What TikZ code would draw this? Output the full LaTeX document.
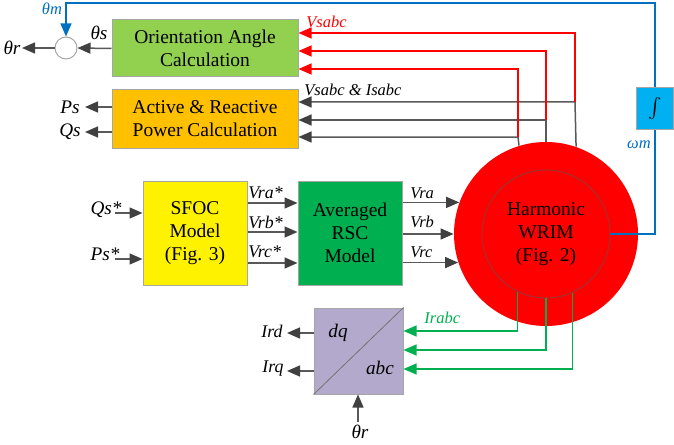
\documentclass[tikz,border=0pt]{standalone}
\usepackage{fontspec}
\setmainfont{LiberationSerif}[
  Extension=.ttf,
  UprightFont=*-Regular,
  BoldFont=*-Bold,
  ItalicFont=*-Italic,
  BoldItalicFont=*-BoldItalic]
\usetikzlibrary{arrows.meta}
\definecolor{linegray}{HTML}{595959}
\definecolor{tipgray}{HTML}{404040}
\definecolor{boxedge}{HTML}{A6A6A6}
\definecolor{oacgreen}{HTML}{92D050}
\definecolor{arporange}{HTML}{FFC000}
\definecolor{rscgreen}{HTML}{00B050}
\definecolor{convlilac}{HTML}{B3A9CC}
\definecolor{integblue}{HTML}{00B0F0}
\definecolor{sigblue}{HTML}{0070C0}
\definecolor{sigred}{HTML}{FF0000}
\definecolor{siggreen}{HTML}{00B050}
\definecolor{ringedge}{HTML}{8C3C3C}

\begin{document}
\begin{tikzpicture}[x=0.5pt,y=-0.5pt,
  block/.style={draw=boxedge, line width=0.5pt, align=center, inner sep=0pt,
    font=\fontsize{9.75}{11.5}\selectfont},
  lab/.style={font=\fontsize{8.25}{10}\selectfont\itshape, inner sep=0pt},
  midlab/.style={font=\fontsize{8.9}{10}\selectfont\itshape, inner sep=0pt},
  biglab/.style={font=\fontsize{9.6}{11}\selectfont\itshape, inner sep=0pt},
  sig/.style={draw=linegray, line width=0.75pt,
    -{Triangle[length=6.5pt,width=5.5pt,color=tipgray]}},
  redsig/.style={draw=sigred, line width=0.6pt, -{Triangle[length=6.5pt,width=5.5pt]}},
  greensig/.style={draw=siggreen, line width=0.6pt, -{Triangle[length=6.5pt,width=5.5pt]}},
  bluesig/.style={draw=sigblue, line width=0.6pt},
]
\useasboundingbox (0,0) rectangle (674,444);

% machine
\node[circle, fill=sigred, minimum size=92pt, inner sep=0pt] (motor) at (546,234) {};
\node[circle, draw=ringedge, fill=sigred, line width=0.4pt, minimum size=64pt,
  inner sep=0pt, align=center, font=\fontsize{9.75}{11.5}\selectfont] (rotor) at (546,234)
  {Harmonic\\WRIM\\(Fig. 2)};

% blocks
\node[block, fill=oacgreen, minimum width=93pt, minimum height=28.5pt] (oac) at (205,48.5)
  {Orientation Angle\\Calculation};
\node[block, fill=arporange, minimum width=93pt, minimum height=29pt] (arp) at (205,119)
  {Active \& Reactive\\Power Calculation};
\node[block, fill=yellow, minimum size=52pt] (sfoc) at (195,233) {SFOC\\Model\\(Fig. 3)};
\node[block, fill=rscgreen, minimum size=52pt] (rsc) at (350,233) {Averaged\\RSC\\Model};
\node[block, fill=convlilac, minimum width=44.5pt, minimum height=43pt] (conv) at (358.5,351) {};
\draw[line width=0.4pt, draw=black!55] (conv.south west) -- (conv.north east);
\node[biglab] (dq) at (338,333) {dq};
\node[biglab] (abc) at (380,368) {abc};
\node[block, fill=integblue, minimum width=18.5pt, minimum height=20.5pt] (integ) at (655,108.5) {$\int$};
\node[circle, draw=boxedge, fill=white, line width=0.5pt, minimum size=11pt, inner sep=0pt] (sum) at (66,48) {};

% angle path
\draw[sig] (oac.west) -- (sum.east);
\coordinate (thetaout) at (22,48);
\draw[sig] (sum.west) -- (thetaout);
\coordinate (tl) at (66,3);
\draw[bluesig, -{Triangle[length=6.5pt,width=5.5pt]}] (integ.north) |- (tl) -- (sum.north);
\draw[bluesig] (rotor.east) -| (integ.south);

% stator measurements
\coordinate (g1) at (575,102);
\coordinate (g2) at (546,120);
\coordinate (g3) at (518,137);
\coordinate (r1) at (575,33);
\coordinate (r2) at (546,51);
\coordinate (r3) at (518,69);
\draw[sig] (motor.71.6) -- (g1) -- (arp.east |- g1);
\draw[sig] (motor.north) -- (g2) -- (arp.east |- g2);
\draw[sig] (motor.107.7) -- (g3) -- (arp.east |- g3);
\draw[redsig] (g1) -- (r1) -- (oac.east |- r1);
\draw[redsig] (g2) -- (r2) -- (oac.east |- r2);
\draw[redsig] (g3) -- (r3) -- (oac.east |- r3);

% power outputs
\coordinate (psout) at (85,107);
\coordinate (qsout) at (85,132);
\draw[sig] (arp.west |- psout) -- (psout);
\draw[sig] (arp.west |- qsout) -- (qsout);

% references
\coordinate (qin) at (115,213);
\coordinate (pin) at (115,259);
\draw[sig] (qin) -- (sfoc.west |- qin);
\draw[sig] (pin) -- (sfoc.west |- pin);

% rotor voltages
\draw[sig] ([yshift=15pt]sfoc.east) -- ([yshift=15pt]rsc.west);
\draw[sig] ([yshift=0.5pt]sfoc.east) -- ([yshift=0.5pt]rsc.west);
\draw[sig] ([yshift=-15pt]sfoc.east) -- ([yshift=-15pt]rsc.west);
\draw[sig] (rsc.east |- motor.160.3) -- (motor.160.3);
\draw[sig] (rsc.east |- motor.west) -- (motor.west);
\draw[sig] (rsc.east |- motor.198.4) -- (motor.198.4);

% rotor currents
\draw[greensig] (rotor.244.1) |- ([yshift=10pt]conv.east);
\draw[greensig] (rotor.south) |- ([yshift=0.5pt]conv.east);
\draw[greensig] (rotor.294.95) |- ([yshift=-9pt]conv.east);
\coordinate (irdout) at (287,333);
\coordinate (irqout) at (287,371);
\draw[sig] (conv.west |- irdout) -- (irdout);
\draw[sig] (conv.west |- irqout) -- (irqout);
\coordinate (thetain) at (358,422);
\draw[sig] (thetain) -- (thetain |- conv.south);

% labels
\node[lab, text=sigblue] (thm) at (52,9) {θm};
\node[biglab] (ths) at (99,33) {θs};
\node[biglab] (thr) at (12,48) {θr};
\node[lab, text=sigred, anchor=west] (vs) at (306,22) {Vsabc};
\node[lab, anchor=west] (vsis) at (304,90) {Vsabc \& Isabc};
\node[lab, text=sigblue] (wm) at (639,145) {ωm};
\node[biglab] (ps) at (70,107) {Ps};
\node[biglab] (qs) at (70,132) {Qs};
\node[biglab] (qsst) at (106,210) {Qs*};
\node[biglab] (psst) at (105,254) {Ps*};
\node[midlab, anchor=west] (vras) at (248,193) {Vra*};
\node[midlab, anchor=west] (vrbs) at (248,222) {Vrb*};
\node[midlab, anchor=west] (vrcs) at (248,252) {Vrc*};
\node[lab, anchor=west] (vra) at (410,193) {Vra};
\node[lab, anchor=west] (vrb) at (410,222) {Vrb};
\node[lab, anchor=west] (vrc) at (410,252) {Vrc};
\node[lab, text=siggreen, anchor=west] (irabc) at (424,318) {Irabc};
\node[midlab] (ird) at (272,331) {Ird};
\node[midlab] (irq) at (273,369) {Irq};
\node[biglab] (thrin) at (360,432) {θr};
\end{tikzpicture}
\end{document}
